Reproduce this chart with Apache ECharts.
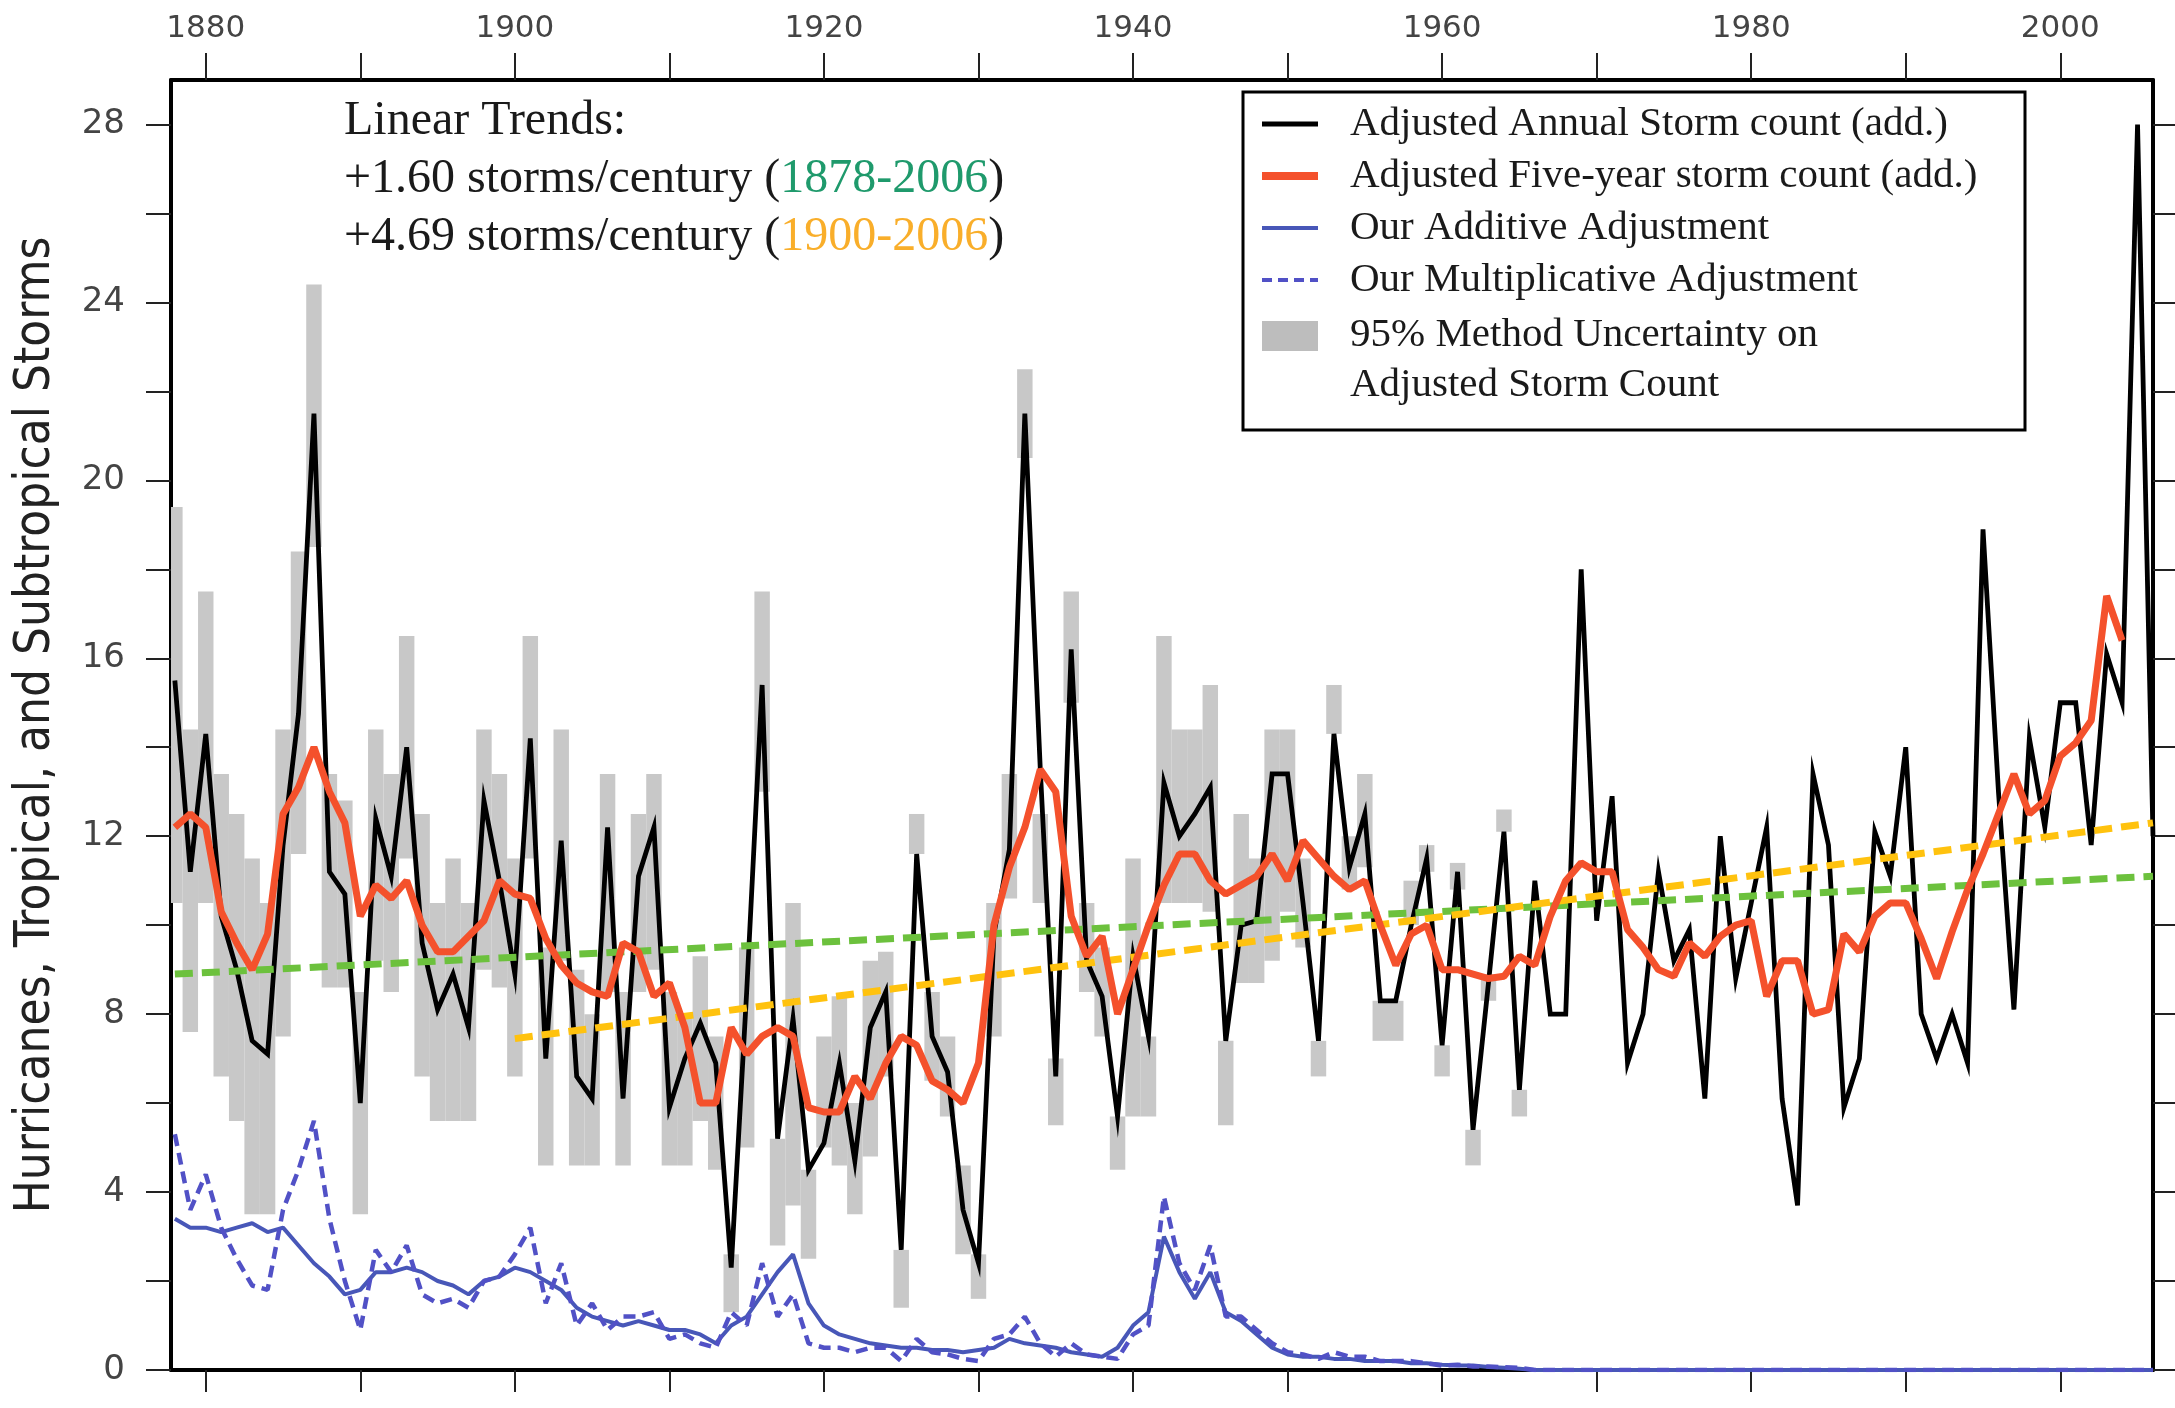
<!DOCTYPE html>
<html><head><meta charset="utf-8">
<script src="https://cdn.jsdelivr.net/npm/echarts@6/dist/echarts.min.js"></script>
<style>html,body{margin:0;padding:0;background:#fff}#c{width:2175px;height:1408px}</style>
</head><body><div id="c"></div>
<script>
// ---- data ----
const firstYear = 1878;
const annualCount = [15.5,11.2,14.3,10.2,9.0,7.4,7.1,11.8,14.75,21.5,11.2,10.7,6.0,12.4,11.1,14.0,9.6,8.1,8.9,7.7,
12.8,11.0,8.9,14.2,7.0,11.9,6.6,6.1,12.2,6.1,11.1,12.2,5.9,7.0,7.8,6.9,2.3,8.5,15.4,5.2,
7.9,4.5,5.1,6.9,4.7,7.7,8.5,2.7,11.6,7.5,6.7,3.6,2.4,9.8,11.7,21.5,13.5,6.6,16.2,9.2,
8.4,5.7,9.3,7.5,13.2,12.0,12.5,13.1,7.4,10.0,10.1,13.4,13.4,10.5,7.4,14.3,11.3,12.5,8.3,8.3,
10.0,11.5,7.3,11.2,5.4,8.7,12.1,6.3,11.0,8.0,8.0,18.0,10.1,12.9,6.9,8.0,11.2,9.2,9.9,6.1,
12.0,8.8,10.5,12.2,6.1,3.7,13.4,11.8,5.9,7.0,12.1,11.1,14.0,8.0,7.0,8.0,6.9,18.9,13.0,8.1,
14.2,12.2,15.0,15.0,11.8,16.1,15.0,28.0,12.0];
const fiveYearCount = [12.2,12.5,12.2,10.3,9.6,9.0,9.8,12.5,13.1,14.0,13.0,12.3,10.2,10.9,10.6,11.0,10.0,9.4,9.4,9.75,
10.1,11.0,10.7,10.6,9.7,9.1,8.7,8.5,8.4,9.6,9.4,8.4,8.7,7.7,6.0,6.0,7.7,7.1,7.5,7.7,
7.5,5.9,5.8,5.8,6.6,6.1,6.9,7.5,7.3,6.5,6.3,6.0,6.9,10.0,11.3,12.2,13.5,13.0,10.2,9.3,
9.75,8.0,9.0,10.0,10.9,11.6,11.6,11.0,10.7,10.9,11.1,11.6,11.0,11.9,11.5,11.1,10.8,11.0,10.0,9.1,
9.8,10.0,9.0,9.0,8.9,8.8,8.85,9.3,9.1,10.2,11.0,11.4,11.2,11.2,9.9,9.5,9.0,8.85,9.6,9.3,
9.75,10.0,10.1,8.4,9.2,9.2,8.0,8.1,9.8,9.4,10.2,10.5,10.5,9.7,8.8,9.85,10.8,11.6,12.5,13.4,
12.5,12.8,13.8,14.1,14.6,17.4,16.4];
const additiveAdj = [3.4,3.2,3.2,3.1,3.2,3.3,3.1,3.2,2.8,2.4,2.1,1.7,1.8,2.2,2.2,2.3,2.2,2.0,1.9,1.7,
2.0,2.1,2.3,2.2,2.0,1.8,1.4,1.2,1.1,1.0,1.1,1.0,0.9,0.9,0.8,0.6,1.0,1.2,1.7,2.2,
2.6,1.5,1.0,0.8,0.7,0.6,0.55,0.5,0.5,0.45,0.45,0.4,0.45,0.5,0.7,0.6,0.55,0.5,0.4,0.35,
0.3,0.5,1.0,1.3,3.0,2.2,1.6,2.2,1.3,1.1,0.8,0.5,0.35,0.3,0.3,0.25,0.25,0.2,0.2,0.2,
0.15,0.15,0.12,0.1,0.1,0.07,0.05,0.03,0,0,0,0,0,0,0,0,0,0,0,0,
0,0,0,0,0,0,0,0,0,0,0,0,0,0,0,0,0,0,0,0,
0,0,0,0,0,0,0,0,0];
const multiplicativeAdj = [5.3,3.6,4.4,3.2,2.5,1.9,1.8,3.6,4.5,5.6,3.4,2.0,0.9,2.7,2.2,2.8,1.7,1.5,1.6,1.4,
2.0,2.1,2.6,3.2,1.5,2.4,1.0,1.5,0.9,1.2,1.2,1.3,0.7,0.8,0.6,0.5,1.3,1.0,2.4,1.2,
1.7,0.6,0.5,0.5,0.4,0.5,0.5,0.2,0.7,0.4,0.35,0.25,0.2,0.7,0.8,1.2,0.6,0.3,0.6,0.35,
0.3,0.25,0.8,1.0,3.9,2.4,1.8,2.8,1.2,1.2,0.9,0.6,0.4,0.35,0.25,0.4,0.3,0.3,0.2,0.2,
0.2,0.15,0.1,0.12,0.08,0.08,0.06,0.05,0,0,0,0,0,0,0,0,0,0,0,0,
0,0,0,0,0,0,0,0,0,0,0,0,0,0,0,0,0,0,0,0,
0,0,0,0,0,0,0,0,0];
// 95% method uncertainty (1878-1965): lower and upper bounds
const uncLow = [10.5,7.6,10.5,6.6,5.6,3.5,3.5,7.5,11.6,18.5,8.6,8.6,3.5,9.2,8.5,11.5,6.6,5.6,5.6,5.6,
9.0,8.6,6.6,11.5,4.6,9.2,4.6,4.6,8.5,4.6,8.5,9.0,4.6,4.6,5.6,4.5,1.3,5.0,13.0,2.8,
3.7,2.5,5.0,4.6,3.5,4.8,6.6,1.4,11.6,6.5,5.7,2.6,1.6,7.5,10.6,20.5,10.5,5.5,15.0,8.5,
7.5,4.5,5.7,5.7,10.5,10.5,10.5,10.3,5.5,8.7,8.7,9.2,10.3,9.5,6.6,14.3,10.8,11.3,7.4,7.4,
10.0,11.2,6.6,10.8,4.6,8.3,12.1,5.7];
const uncHigh = [19.4,14.4,17.5,13.4,12.5,11.5,10.5,14.4,18.4,24.4,13.4,12.8,8.5,14.4,13.4,16.5,12.5,10.5,11.5,10.5,
14.4,13.4,11.5,16.5,9.5,14.4,9.0,8.0,13.4,8.5,12.5,13.4,8.5,8.0,9.3,7.5,2.6,9.5,17.5,5.2,
10.5,4.5,7.5,8.4,6.0,9.2,9.4,2.7,12.5,8.5,7.5,4.6,2.6,10.5,13.4,22.5,12.5,7.0,17.5,10.5,
9.5,5.7,11.5,7.5,16.5,14.4,14.4,15.4,7.4,12.5,11.5,14.4,14.4,11.5,7.4,15.4,12.0,13.4,8.3,8.3,
11.0,11.8,7.3,11.4,5.4,8.9,12.6,6.3];
// linear trend end points [year, value]
const trendAll = [[1878, 8.9], [2006, 11.1]];
const trend1900 = [[1900, 7.45], [2006, 12.3]];
const yTickLabels = [0, 4, 8, 12, 16, 20, 24, 28];
const yTicks = [0, 2, 4, 6, 8, 10, 12, 14, 16, 18, 20, 22, 24, 26, 28];
const xTickLabels = [1880, 1900, 1920, 1940, 1960, 1980, 2000];
const xTicks = [1880, 1890, 1900, 1910, 1920, 1930, 1940, 1950, 1960, 1970, 1980, 1990, 2000];

// ---- build series data ----
const pairs = arr => arr.map((v, i) => [firstYear + i, v]);
const uncData = uncLow.map((lo, i) => [firstYear + i, lo, uncHigh[i]]);

const chart = echarts.init(document.getElementById('c'), null, {renderer: 'canvas'});
const axisLine = {show: true, onZero: false, lineStyle: {color: '#000', width: 4}};
const tickFont = 'DejaVu Sans, sans-serif';
const serif = 'Liberation Serif, Times New Roman, serif';
const plain = v => String(v);

chart.setOption({
  animation: false,
  backgroundColor: '#fff',
  grid: {left: 171, right: 22, top: 80, bottom: 38, containLabel: false},
  xAxis: [
    {type: 'value', position: 'top', min: 1877.75, max: 2006, axisLine,
     splitLine: {show: false},
     axisTick: {show: true, inside: false, length: 27, customValues: xTicks, lineStyle: {color: '#222', width: 2}},
     axisLabel: {show: true, margin: 36, customValues: xTickLabels, formatter: plain, fontFamily: tickFont, fontSize: 31, color: '#444'}},
    {type: 'value', position: 'bottom', min: 1877.75, max: 2006, axisLine,
     splitLine: {show: false},
     axisTick: {show: true, inside: false, length: 22, customValues: xTicks, lineStyle: {color: '#222', width: 2}},
     axisLabel: {show: false}}
  ],
  yAxis: [
    {type: 'value', position: 'left', min: 0, max: 29, axisLine, splitLine: {show: false},
     name: 'Hurricanes, Tropical, and Subtropical Storms', nameLocation: 'middle', nameRotate: 90, nameGap: 110,
     nameTextStyle: {fontFamily: 'Liberation Sans Narrow, DejaVu Sans Condensed, Arial Narrow, sans-serif', fontSize: 49, color: '#222'},
     axisTick: {show: true, inside: false, length: 25, customValues: yTicks, lineStyle: {color: '#222', width: 2}},
     axisLabel: {show: true, margin: 46, customValues: yTickLabels, formatter: plain, fontFamily: tickFont, fontSize: 34, color: '#444'}},
    {type: 'value', position: 'right', min: 0, max: 29, axisLine, splitLine: {show: false},
     axisTick: {show: true, inside: false, length: 22, customValues: yTicks, lineStyle: {color: '#222', width: 2}},
     axisLabel: {show: false}}
  ],
  series: [
    {name: '95% Method Uncertainty', type: 'custom', xAxisIndex: 0, yAxisIndex: 0, z: 1,
     data: uncData, encode: {x: 0, y: [1, 2]},
     renderItem: function (params, api) {
       const x = api.value(0), lo = api.value(1), hi = api.value(2);
       const p1 = api.coord([x - 0.5, hi]);
       const p2 = api.coord([x + 0.5, lo]);
       const shape = echarts.graphic.clipRectByRect(
         {x: p1[0], y: p1[1], width: p2[0] - p1[0], height: p2[1] - p1[1]},
         {x: params.coordSys.x, y: params.coordSys.y, width: params.coordSys.width, height: params.coordSys.height});
       return shape && {type: 'rect', shape: shape, style: {fill: '#c8c8c8'}};
     }},
    {name: 'Adjusted Annual Storm count (add.)', type: 'line', xAxisIndex: 0, z: 3, data: pairs(annualCount),
     symbol: 'none', lineStyle: {color: '#000', width: 4.8, join: 'miter'}},
    {name: 'Trend 1878-2006', type: 'line', xAxisIndex: 0, z: 4, data: trendAll, symbol: 'none',
     lineStyle: {color: '#6cc13d', width: 7, type: [18, 9]}},
    {name: 'Trend 1900-2006', type: 'line', xAxisIndex: 0, z: 4, data: trend1900, symbol: 'none',
     lineStyle: {color: '#ffc20e', width: 7, type: [18, 9]}},
    {name: 'Adjusted Five-year storm count (add.)', type: 'line', xAxisIndex: 0, z: 5, data: pairs(fiveYearCount),
     symbol: 'none', lineStyle: {color: '#f4512c', width: 7}},
    {name: 'Our Additive Adjustment', type: 'line', xAxisIndex: 0, z: 6, data: pairs(additiveAdj),
     symbol: 'none', lineStyle: {color: '#4857b8', width: 4}},
    {name: 'Our Multiplicative Adjustment', type: 'line', xAxisIndex: 0, z: 6, data: pairs(multiplicativeAdj),
     symbol: 'none', lineStyle: {color: '#5151c6', width: 4.5, type: [12, 7]}}
  ],
  graphic: [
    {type: 'text', x: 344, y: 121, z: 100, style: {text: 'Linear Trends:', font: '48px ' + serif, fill: '#1a1a1a', verticalAlign: 'middle'}},
    {type: 'text', x: 344, y: 179, z: 100, style: {text: '+1.60 storms/century ({g|1878-2006})', font: '48px ' + serif, fill: '#1a1a1a', verticalAlign: 'middle',
      rich: {g: {fill: '#1f9a6c', font: '48px ' + serif}}}},
    {type: 'text', x: 344, y: 237, z: 100, style: {text: '+4.69 storms/century ({o|1900-2006})', font: '48px ' + serif, fill: '#1a1a1a', verticalAlign: 'middle',
      rich: {o: {fill: '#f9ae2a', font: '48px ' + serif}}}},
    {type: 'rect', z: 100, shape: {x: 1243, y: 92, width: 782, height: 338}, style: {fill: '#fff', stroke: '#000', lineWidth: 3}},
    {type: 'line', z: 101, shape: {x1: 1262, y1: 124, x2: 1318, y2: 124}, style: {stroke: '#000', lineWidth: 5}},
    {type: 'line', z: 101, shape: {x1: 1262, y1: 176, x2: 1318, y2: 176}, style: {stroke: '#f4512c', lineWidth: 8}},
    {type: 'line', z: 101, shape: {x1: 1262, y1: 228, x2: 1318, y2: 228}, style: {stroke: '#4857b8', lineWidth: 4}},
    {type: 'line', z: 101, shape: {x1: 1262, y1: 280, x2: 1318, y2: 280}, style: {stroke: '#5151c6', lineWidth: 4, lineDash: [10, 6]}},
    {type: 'rect', z: 101, shape: {x: 1262, y: 321, width: 56, height: 30}, style: {fill: '#bdbdbd'}},
    {type: 'text', z: 101, x: 1350, y: 124, style: {text: 'Adjusted Annual Storm count (add.)', font: '41px ' + serif, fill: '#1a1a1a', verticalAlign: 'middle'}},
    {type: 'text', z: 101, x: 1350, y: 176, style: {text: 'Adjusted Five-year storm count (add.)', font: '41px ' + serif, fill: '#1a1a1a', verticalAlign: 'middle'}},
    {type: 'text', z: 101, x: 1350, y: 228, style: {text: 'Our Additive Adjustment', font: '41px ' + serif, fill: '#1a1a1a', verticalAlign: 'middle'}},
    {type: 'text', z: 101, x: 1350, y: 280, style: {text: 'Our Multiplicative Adjustment', font: '41px ' + serif, fill: '#1a1a1a', verticalAlign: 'middle'}},
    {type: 'text', z: 101, x: 1350, y: 335, style: {text: '95% Method Uncertainty on', font: '41px ' + serif, fill: '#1a1a1a', verticalAlign: 'middle'}},
    {type: 'text', z: 101, x: 1350, y: 385, style: {text: 'Adjusted Storm Count', font: '41px ' + serif, fill: '#1a1a1a', verticalAlign: 'middle'}}
  ]
});
</script></body></html>
